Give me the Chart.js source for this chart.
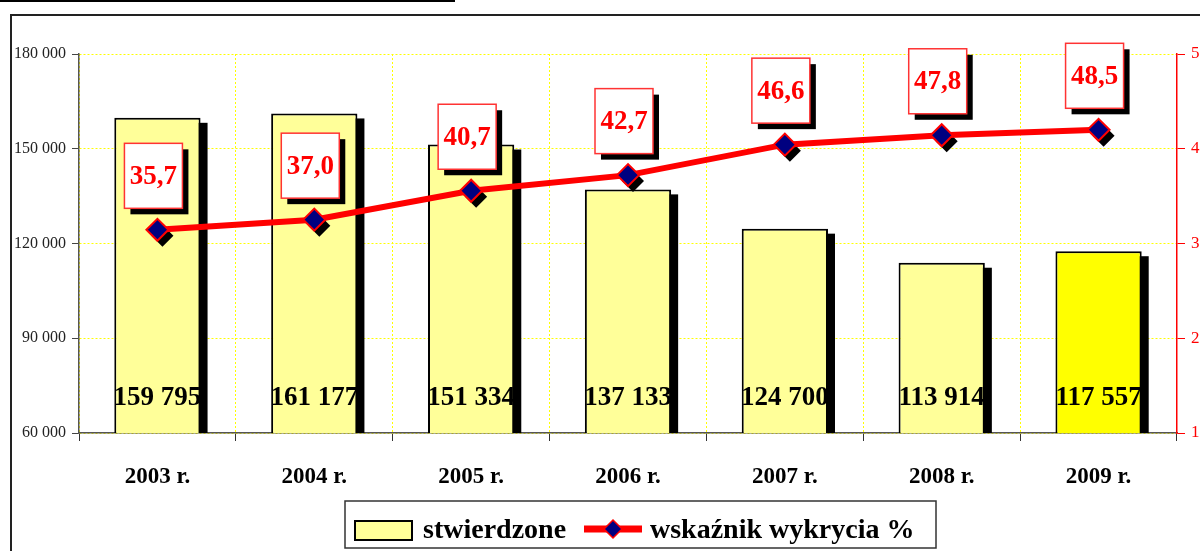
<!DOCTYPE html>
<html>
<head>
<meta charset="utf-8">
<script src="https://cdn.jsdelivr.net/npm/chart.js@4.4.1/dist/chart.umd.min.js"></script>
<style>
html, body { margin: 0; padding: 0; background: #fff; }
#wrap { position: relative; width: 1200px; height: 551px; overflow: hidden; }
</style>
</head>
<body>
<div id="wrap"><canvas id="wykres" width="1200" height="551"></canvas></div>
<script>
// dane
var lata = ['2003 r.', '2004 r.', '2005 r.', '2006 r.', '2007 r.', '2008 r.', '2009 r.'];
var stwierdzone = [159795, 161177, 151334, 137133, 124700, 113914, 117557];
var wskaznik = [35.7, 37.0, 40.7, 42.7, 46.6, 47.8, 48.5];
var lewaOs = [60000, 90000, 120000, 150000, 180000];
var prawaOs = [10, 20, 30, 40, 50];
var prawaOsEtykiety = ['1', '2', '3', '4', '5']; // ucięte przy krawędzi
var koloryBar = ['#FFFF99', '#FFFF99', '#FFFF99', '#FFFF99', '#FFFF99', '#FFFF99', '#FFFF00'];

var SERIF = "'Liberation Serif', 'DejaVu Serif', serif";

function tysiace(n) {
    return String(n).replace(/\B(?=(\d{3})+(?!\d))/g, ' ');
}
function przecinek(v) {
    return v.toFixed(1).replace('.', ',');
}
function romb(ctx, x, y, r) {
    ctx.beginPath();
    ctx.moveTo(x, y - r);
    ctx.lineTo(x + r, y);
    ctx.lineTo(x, y + r);
    ctx.lineTo(x - r, y);
    ctx.closePath();
}

var dodatki = {
    id: 'dodatki',
    beforeDraw: function(chart) {
        var ctx = chart.ctx;
        ctx.save();
        ctx.fillStyle = '#fff';
        ctx.fillRect(0, 0, chart.width, chart.height);
        // podkreślenie tytułu (ucięte u góry)
        ctx.fillStyle = '#000';
        ctx.fillRect(0, 0, 455, 2);
        // ramka wykresu
        ctx.strokeStyle = '#222';
        ctx.lineWidth = 2;
        ctx.strokeRect(11, 15, 1300, 700);
        ctx.restore();
    },
    beforeDatasetDraw: function(chart, args) {
        var ctx = chart.ctx;
        var bottom = chart.chartArea.bottom;
        ctx.save();
        ctx.fillStyle = '#000';
        if (args.meta.type === 'bar') {
            args.meta.data.forEach(function(bar) {
                var p = bar.getProps(['x', 'y', 'width'], true);
                ctx.fillRect(p.x - p.width / 2 + 7, p.y + 5, p.width, bottom - p.y - 5);
            });
        } else {
            args.meta.data.forEach(function(pt) {
                romb(ctx, pt.x + 5, pt.y + 6, 11);
                ctx.fill();
            });
        }
        ctx.restore();
    },
    afterDatasetsDraw: function(chart) {
        var ctx = chart.ctx;
        var bottom = chart.chartArea.bottom;
        ctx.save();
        // wartości słupków
        ctx.font = 'bold 27px ' + SERIF;
        ctx.fillStyle = '#000';
        ctx.textAlign = 'center';
        ctx.textBaseline = 'middle';
        chart.getDatasetMeta(0).data.forEach(function(bar, i) {
            ctx.fillText(tysiace(stwierdzone[i]), bar.x, bottom - 35);
        });
        // etykiety wskaźnika
        chart.getDatasetMeta(1).data.forEach(function(pt, i) {
            var w = 58, h = 65;
            var cx = pt.x - 4, cy = pt.y - 54;
            ctx.fillStyle = '#000';
            ctx.fillRect(cx - w / 2 + 6, cy - h / 2 + 6, w, h);
            ctx.fillStyle = '#fff';
            ctx.fillRect(cx - w / 2, cy - h / 2, w, h);
            ctx.strokeStyle = '#FF3333';
            ctx.lineWidth = 1.5;
            ctx.strokeRect(cx - w / 2, cy - h / 2, w, h);
            ctx.fillStyle = '#FF0000';
            ctx.font = 'bold 27px ' + SERIF;
            ctx.fillText(przecinek(wskaznik[i]), cx, cy + 1);
        });
        ctx.restore();
    },
    afterDraw: function(chart) {
        var ctx = chart.ctx;
        ctx.save();
        // legenda
        ctx.fillStyle = '#fff';
        ctx.fillRect(345, 501, 591, 47);
        ctx.strokeStyle = '#333';
        ctx.lineWidth = 1.5;
        ctx.strokeRect(345, 501, 591, 47);
        ctx.fillStyle = '#FFFF99';
        ctx.fillRect(355, 521, 57, 19);
        ctx.strokeStyle = '#000';
        ctx.lineWidth = 2;
        ctx.strokeRect(355, 521, 57, 19);
        ctx.fillStyle = '#000';
        ctx.font = 'bold 28px ' + SERIF;
        ctx.textBaseline = 'alphabetic';
        ctx.textAlign = 'left';
        ctx.fillText(chart.data.datasets[0].label, 423, 538);
        ctx.strokeStyle = '#FF0000';
        ctx.lineWidth = 7;
        ctx.beginPath();
        ctx.moveTo(584, 529);
        ctx.lineTo(642, 529);
        ctx.stroke();
        romb(ctx, 613, 529, 9);
        ctx.fillStyle = '#000080';
        ctx.fill();
        ctx.strokeStyle = '#FF0000';
        ctx.lineWidth = 1.5;
        ctx.stroke();
        ctx.fillStyle = '#000';
        ctx.fillText(chart.data.datasets[1].label, 650, 538);
        ctx.restore();
    }
};

var ctx = document.getElementById('wykres').getContext('2d');
var wykres = new Chart(ctx, {
    type: 'bar',
    data: {
        labels: lata,
        datasets: [
            {
                type: 'bar',
                label: 'stwierdzone',
                data: stwierdzone,
                backgroundColor: koloryBar,
                borderColor: '#000',
                borderWidth: 2,
                borderSkipped: 'bottom',
                barPercentage: 0.55,
                categoryPercentage: 1,
                yAxisID: 'y',
                order: 2
            },
            {
                type: 'line',
                label: 'wskaźnik wykrycia %',
                data: wskaznik,
                borderColor: '#FF0000',
                borderWidth: 6,
                pointStyle: 'rectRot',
                pointRadius: 11,
                pointBackgroundColor: '#000080',
                pointBorderColor: '#FF0000',
                pointBorderWidth: 2,
                tension: 0,
                yAxisID: 'y2',
                order: 1
            }
        ]
    },
    options: {
        responsive: false,
        animation: false,
        devicePixelRatio: 1,
        layout: { padding: { top: 54, left: 0, right: 0, bottom: 0 } },
        plugins: {
            legend: { display: false },
            tooltip: { enabled: false }
        },
        scales: {
            x: {
                offset: true,
                grid: {
                    color: '#FFFF00',
                    lineWidth: 1,
                    tickLength: 8,
                    tickColor: '#333',
                    offset: true
                },
                border: { color: '#555', width: 1.5, dash: [2, 2] },
                ticks: {
                    color: '#000',
                    padding: 22,
                    font: { family: SERIF, size: 23, weight: 'bold' }
                },
                afterFit: function(s) { s.height = 118; }
            },
            y: {
                position: 'left',
                min: 60000,
                max: 180000,
                afterBuildTicks: function(s) { s.ticks = lewaOs.map(function(v) { return { value: v }; }); },
                grid: {
                    color: '#FFFF00',
                    lineWidth: 1,
                    tickLength: 7,
                    tickColor: '#444'
                },
                border: { color: '#555', width: 1.5, dash: [2, 2] },
                ticks: {
                    color: '#222',
                    padding: 6,
                    font: { family: SERIF, size: 16 },
                    callback: function(v) { return tysiace(v); }
                },
                afterFit: function(s) { s.width = 79; }
            },
            y1: {
                position: 'right',
                min: 10,
                max: 50,
                afterBuildTicks: function(s) { s.ticks = prawaOs.map(function(v) { return { value: v }; }); },
                grid: {
                    drawOnChartArea: false,
                    tickLength: 8,
                    tickColor: '#FF0000'
                },
                border: { color: '#FF0000', width: 1.5 },
                ticks: {
                    color: '#FF0000',
                    padding: 6,
                    font: { family: SERIF, size: 17 },
                    callback: function(v, i) { return prawaOsEtykiety[i]; }
                },
                afterFit: function(s) { s.width = 23; }
            },
            y2: {
                display: false,
                min: 9.7,
                max: 58.2
            }
        }
    },
    plugins: [dodatki]
});
</script>
</body>
</html>
